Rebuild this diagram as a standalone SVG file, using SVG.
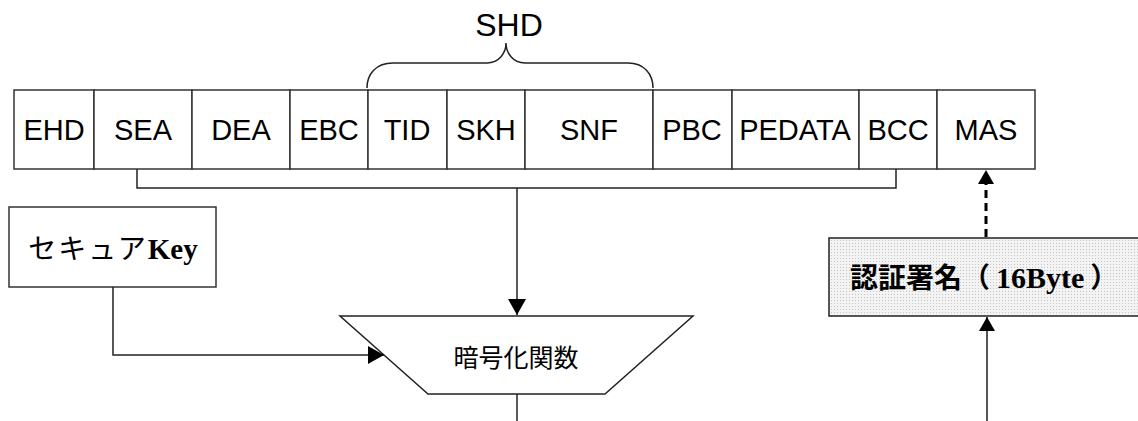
<svg xmlns="http://www.w3.org/2000/svg" width="1138" height="421" viewBox="0 0 1138 421">
<style>
.cell{fill:#fff;stroke:#333;stroke-width:1.5}
.lbl{font-family:"Liberation Sans",Arial,sans-serif;font-size:29px;fill:#000;text-anchor:middle}
.ln{fill:none;stroke:#222;stroke-width:1.5}
.jp{font-family:"Liberation Serif","Noto Sans CJK JP",serif;font-size:28px;fill:#000}
.cj{font-family:"Noto Sans CJK JP",sans-serif}
.b{font-weight:bold}
</style>
<defs>
<marker id="ah" viewBox="0 0 16 18" refX="16" refY="9" markerWidth="16" markerHeight="18" markerUnits="userSpaceOnUse" orient="auto">
<path d="M0,0 L16,9 L0,18 Z" fill="#000"/>
</marker>
<marker id="ah2" viewBox="0 0 14 16" refX="14" refY="8" markerWidth="14" markerHeight="16" markerUnits="userSpaceOnUse" orient="auto">
<path d="M0,0 L14,8 L0,16 Z" fill="#000"/>
</marker>
<pattern id="dots" width="3" height="3" patternUnits="userSpaceOnUse">
<rect width="3" height="3" fill="#f3f3f3"/>
<rect width="1" height="1" fill="#c4c4c4"/>
</pattern>
</defs>

<g id="frame">
<rect class="cell" x="14" y="90" width="80" height="79"/><text class="lbl" x="54" y="140">EHD</text>
<rect class="cell" x="94" y="90" width="98" height="79"/><text class="lbl" x="143" y="140">SEA</text>
<rect class="cell" x="192" y="90" width="98" height="79"/><text class="lbl" x="241" y="140">DEA</text>
<rect class="cell" x="290" y="90" width="78" height="79"/><text class="lbl" x="329" y="140">EBC</text>
<rect class="cell" x="368" y="90" width="79" height="79"/><text class="lbl" x="407" y="140">TID</text>
<rect class="cell" x="447" y="90" width="78" height="79"/><text class="lbl" x="486" y="140">SKH</text>
<rect class="cell" x="525" y="90" width="128" height="79"/><text class="lbl" x="589" y="140">SNF</text>
<rect class="cell" x="653" y="90" width="79" height="79"/><text class="lbl" x="692" y="140">PBC</text>
<rect class="cell" x="732" y="90" width="127" height="79"/><text class="lbl" x="795" y="140">PEDATA</text>
<rect class="cell" x="859" y="90" width="78" height="79"/><text class="lbl" x="898" y="140">BCC</text>
<rect class="cell" x="937" y="90" width="98" height="79"/><text class="lbl" x="986" y="140">MAS</text>
</g>

<g id="shd">
<path class="ln" d="M367,88 C367,74 376,63 393,63 L487,63 C499,63 506,53 506,43 C506,53 513,63 525,63 L628,63 C644,63 653,74 653,88"/>
<text class="lbl" x="509" y="36" style="font-size:32px">SHD</text>
</g>

<g id="key">
<rect class="cell" x="9" y="207" width="207" height="80"/>
<text class="jp" x="113" y="259" text-anchor="middle"><tspan class="cj" letter-spacing="2">セキュア</tspan><tspan class="b" style="font-size:29px">Key</tspan></text>
</g>

<g id="cipher">
<path d="M340,316 L693,316 L605,394 L428,394 Z" fill="#fff" stroke="#222" stroke-width="1.5"/>
<text x="516" y="367" text-anchor="middle" style="font-family:'Noto Sans CJK JP',sans-serif;font-size:25px;fill:#000">暗号化関数</text>
</g>

<g id="sig">
<rect x="829" y="238" width="320" height="78" fill="url(#dots)" stroke="#222" stroke-width="1.5"/>
<text class="jp" x="850" y="288"><tspan class="cj b">認証署名（</tspan><tspan class="b" dx="6" style="font-size:30px">16Byte</tspan><tspan class="cj b" dx="6">）</tspan></text>
</g>

<g id="connectors">
<path class="ln" d="M137,169 L137,188 L896,188 L896,169"/>
<path class="ln" d="M517,188 L517,315" marker-end="url(#ah)"/>
<path class="ln" d="M113,287 L113,355 L384,355" marker-end="url(#ah)"/>
<path class="ln" d="M517,394 L517,421"/>
<path d="M987,421 L987,317" fill="none" stroke="#555" stroke-width="2" marker-end="url(#ah2)"/>
<path d="M986,237 L986,184" fill="none" stroke="#000" stroke-width="3" stroke-dasharray="8,5"/>
<path d="M978,184 L994,184 L986,170 Z" fill="#000"/>
</g>
</svg>
